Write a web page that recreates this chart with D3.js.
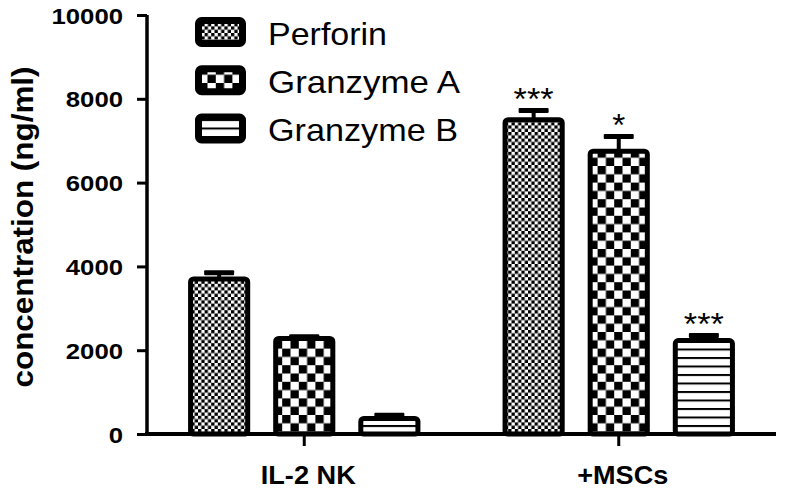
<!DOCTYPE html>
<html>
<head>
<meta charset="utf-8">
<script src="https://cdn.jsdelivr.net/npm/d3@7"></script>
<style>
html,body{margin:0;padding:0;background:#fff;}
svg{display:block;}
text{font-family:"Liberation Sans",Arial,Helvetica,sans-serif;}
</style>
</head>
<body>
<svg id="chart" width="787" height="495"></svg>
<script>
// ---- data ----
const categories = ["IL-2 NK", "+MSCs"];
const seriesNames = ["Perforin", "Granzyme A", "Granzyme B"];
const perforin = [3700, 7500];
const granzymeA = [2280, 6750];
const granzymeB = [370, 2230];
const perforinErr = [150, 220];
const granzymeAErr = [40, 350];
const granzymeBErr = [80, 120];
const perforinSig = ["", "***"];
const granzymeASig = ["", "*"];
const granzymeBSig = ["", "***"];
const yTicks = [0, 2000, 4000, 6000, 8000, 10000];
const yLabel = "concentration (ng/ml)";

const values = [perforin, granzymeA, granzymeB];
const errors = [perforinErr, granzymeAErr, granzymeBErr];
const sigs = [perforinSig, granzymeASig, granzymeBSig];
const patternIds = ["pPerf", "pGzA", "pGzB"];

const svg = d3.select("#chart");
const defs = svg.append("defs");

// patterns
function checker(id, s) {
  const p = defs.append("pattern").attr("id", id).attr("patternUnits", "userSpaceOnUse")
    .attr("width", 2 * s).attr("height", 2 * s);
  p.append("rect").attr("width", 2 * s).attr("height", 2 * s).attr("fill", "#fff");
  p.append("rect").attr("x", 0).attr("y", 0).attr("width", s).attr("height", s).attr("fill", "#000");
  p.append("rect").attr("x", s).attr("y", s).attr("width", s).attr("height", s).attr("fill", "#000");
}
checker("pPerf", 3.3);
checker("pGzA", 8.3);
{
  const p = defs.append("pattern").attr("id", "pGzB").attr("patternUnits", "userSpaceOnUse")
    .attr("width", 10).attr("height", 8.5);
  p.append("rect").attr("width", 10).attr("height", 8.5).attr("fill", "#fff");
  p.append("rect").attr("x", 0).attr("y", 0).attr("width", 10).attr("height", 2).attr("fill", "#000");
}

// scales
const y = d3.scaleLinear().domain([0, 10000]).range([434, 15]);
const x0 = d3.scaleBand().domain(categories).range([147, 776]).paddingInner(0.2).paddingOuter(0.1);
const x1 = d3.scaleBand().domain(seriesNames).range([0, x0.bandwidth()]).paddingInner(0.27).paddingOuter(0.113);

const sw = 5;

// bars
const g = svg.append("g");
categories.forEach((c, ci) => {
  seriesNames.forEach((s, si) => {
    const v = values[si][ci], e = errors[si][ci];
    const bx = x0(c) + x1(s);
    const cx = bx + x1.bandwidth() / 2;
    // error bar
    g.append("line").attr("x1", cx).attr("x2", cx).attr("y1", y(v)).attr("y2", y(v + e))
      .attr("stroke", "#000").attr("stroke-width", 4);
    g.append("rect").attr("x", cx - 15).attr("y", y(v + e) - 2.5).attr("width", 30).attr("height", 5)
      .attr("rx", 1).attr("fill", "#000");
    // bar
    g.append("rect").attr("x", bx + sw / 2).attr("y", y(v))
      .attr("width", x1.bandwidth() - sw).attr("height", y(0) - y(v))
      .attr("rx", 3).attr("fill", "url(#" + patternIds[si] + ")")
      .attr("stroke", "#000").attr("stroke-width", sw);
    // significance
    const sig = sigs[si][ci];
    if (sig) {
      g.append("text").attr("x", cx).attr("y", y(v + e) - 1)
        .attr("text-anchor", "middle").attr("font-size", 32)
        .attr("textLength", sig.length === 1 ? 13 : 40).attr("lengthAdjust", "spacingAndGlyphs")
        .text(sig);
    }
  });
});

// y axis
const yAxis = d3.axisLeft(y).tickValues(yTicks).tickSize(10).tickPadding(14).tickFormat(d3.format("d"));
const ya = svg.append("g").attr("transform", "translate(147,0)").call(yAxis);
ya.select(".domain").attr("stroke", "#000").attr("stroke-width", 3.5).attr("d", "M0," + y(10000) + "V" + (y(0) + 2));
ya.selectAll(".tick line").attr("stroke", "#000").attr("stroke-width", 3);
ya.selectAll(".tick text").attr("font-size", 22.5).attr("font-weight", "bold").attr("fill", "#000")
  .attr("font-family", "'Liberation Sans', Arial, sans-serif")
  .attr("dy", "0.36em")
  .each(function(d) {
    const t = d3.select(this);
    t.attr("textLength", String(d).length * 14.3).attr("lengthAdjust", "spacingAndGlyphs");
  });

// x axis
const xAxis = d3.axisBottom(x0).tickSize(12).tickPadding(10);
const xa = svg.append("g").attr("transform", "translate(0," + y(0) + ")").call(xAxis);
xa.select(".domain").attr("stroke", "#000").attr("stroke-width", 4).attr("d", "M145,0H776");
xa.selectAll(".tick line").attr("stroke", "#000").attr("stroke-width", 3);
xa.selectAll(".tick text").remove();
xa.selectAll(".tick").append("text")
  .attr("x", 4).attr("y", 50)
  .attr("text-anchor", "middle").attr("font-size", 26.5).attr("font-weight", "bold").attr("fill", "#000")
  .attr("font-family", "'Liberation Sans', Arial, sans-serif")
  .attr("textLength", d => d === "IL-2 NK" ? 95 : 91).attr("lengthAdjust", "spacingAndGlyphs")
  .text(d => d);

// y label
svg.append("text").attr("transform", "translate(33,227) rotate(-90)")
  .attr("text-anchor", "middle").attr("font-size", 29).attr("font-weight", "bold")
  .attr("textLength", 321).attr("lengthAdjust", "spacingAndGlyphs")
  .text(yLabel);

// legend
const legendY = d3.scalePoint().domain(seriesNames).range([32, 128.5]);
const legendW = [119, 192, 190];
seriesNames.forEach((s, si) => {
  const cy = legendY(s);
  svg.append("rect").attr("x", 198.5).attr("y", cy - 11.5).attr("width", 44).attr("height", 23)
    .attr("rx", 3).attr("fill", "url(#" + patternIds[si] + ")")
    .attr("stroke", "#000").attr("stroke-width", 7);
  svg.append("text").attr("x", 268).attr("y", cy + 12.5).attr("font-size", 32)
    .attr("textLength", legendW[si]).attr("lengthAdjust", "spacingAndGlyphs")
    .text(s);
});
</script>
</body>
</html>
